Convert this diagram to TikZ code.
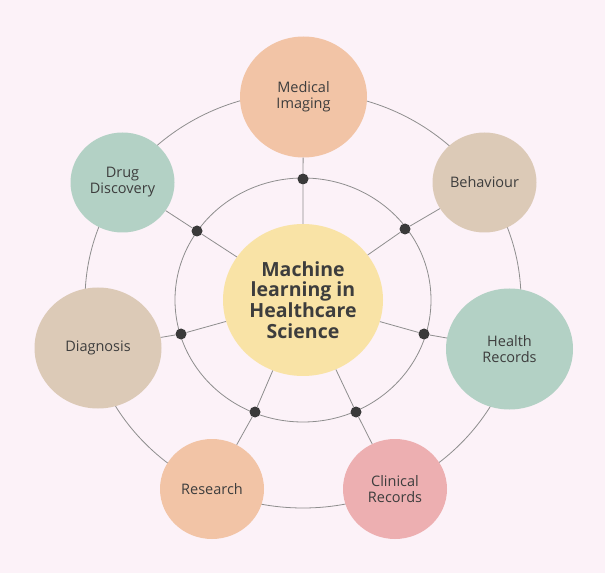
\documentclass[tikz,border=0pt]{standalone}
\usepackage{fontspec}
\setmainfont{Open Sans}
\usetikzlibrary{shapes.geometric}

\definecolor{bgpink}{HTML}{FCF2F8}
\definecolor{peach}{HTML}{F2C4A6}
\definecolor{beige}{HTML}{DCCAB7}
\definecolor{sage}{HTML}{B3D1C5}
\definecolor{rose}{HTML}{EDAFB1}
\definecolor{butter}{HTML}{F9E3A6}
\definecolor{inkgray}{HTML}{3D3D3D}
\definecolor{linegray}{HTML}{8E8E8E}

\begin{document}
\begin{tikzpicture}[x=1pt,y=-1pt,
    topic/.style={ellipse, fill=#1, inner sep=0pt, align=center, text=inkgray,
                  font=\fontsize{14.5}{16}\selectfont},
    bigtopic/.style={topic=#1, minimum width=127pt, minimum height=121pt},
    smalltopic/.style={topic=#1, minimum width=104pt, minimum height=100pt},
    hub/.style={circle, fill=inkgray!95!black, inner sep=0pt, minimum size=11pt},
    ring/.style={draw=linegray, line width=0.8pt},
    spoke/.style={draw=linegray, line width=0.8pt}]

    % Background
    \fill[white] (0,0) rectangle (608,577);
    \fill[bgpink] (0,0) rectangle (605,573);
    \useasboundingbox (0,0) rectangle (608,577);

    % Draw Rings
    \draw[ring] (303,300) ellipse [x radius=218pt, y radius=208pt];
    \draw[ring] (303,300) ellipse [x radius=128pt, y radius=122pt];

    % Centre and topics
    \node[ellipse, fill=butter, inner sep=0pt, minimum width=160pt, minimum height=152pt,
          align=center, text=inkgray, font=\bfseries\fontsize{19.5}{20.8}\selectfont]
          (ml) at (303,300) {Machine\\learning in\\Healthcare\\Science};
    \node[bigtopic=peach] (imaging) at (303.5,97) {Medical\\Imaging};
    \node[smalltopic=beige] (behaviour) at (484.5,182.5) {Behaviour};
    \node[bigtopic=sage] (health) at (509.5,349) {Health\\Records};
    \node[smalltopic=rose] (clinical) at (395,489) {Clinical\\Records};
    \node[smalltopic=peach] (research) at (212,489) {Research};
    \node[bigtopic=beige] (diagnosis) at (98,348) {Diagnosis};
    \node[smalltopic=sage] (drug) at (122.5,182.5) {Drug\\Discovery};

    % Hubs on the inner ring
    \node[hub] (h1) at (303,179) {};
    \node[hub] (h2) at (405,229) {};
    \node[hub] (h3) at (424,334) {};
    \node[hub] (h4) at (356,412) {};
    \node[hub] (h5) at (255,412) {};
    \node[hub] (h6) at (181,334) {};
    \node[hub] (h7) at (197,231) {};

    % Draw Spokes
    \draw[spoke] (ml) -- (h1) -- (imaging);
    \draw[spoke] (ml) -- (h2) -- (behaviour);
    \draw[spoke] (ml) -- (h3) -- (health);
    \draw[spoke] (ml) -- (h4) -- (clinical);
    \draw[spoke] (ml) -- (h5) -- (research);
    \draw[spoke] (ml) -- (h6) -- (diagnosis);
    \draw[spoke] (ml) -- (h7) -- (drug);

\end{tikzpicture}
\end{document}
